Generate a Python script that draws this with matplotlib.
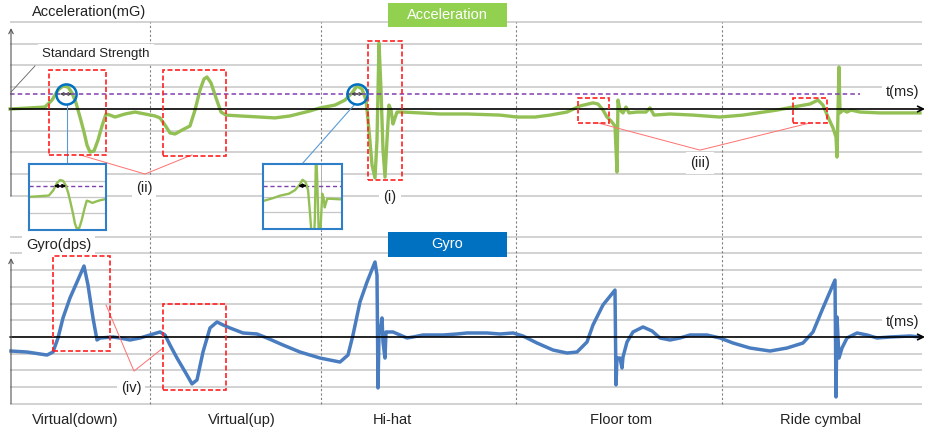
import numpy as np
import matplotlib.pyplot as plt
from matplotlib.patches import Rectangle

plt.rcParams['font.family'] = ['Liberation Sans', 'DejaVu Sans']

# acceleration trace: time (ms) / value in grid steps
acc_t = [0, 20, 35, 42, 48, 53, 58, 62, 66, 70, 74, 77, 80, 84, 88, 92, 96, 100, 105,
         115, 125, 135, 145, 150, 155, 160, 165, 172, 180, 185, 190, 194, 197, 201, 206,
         211, 216, 230, 250, 265, 280, 300, 310, 325, 335, 342, 347, 352, 356, 359, 362,
         365, 367, 369, 371, 373, 375, 377, 379, 381, 383, 385, 387, 392, 410, 430, 457,
         490, 507, 525, 540, 557, 570, 583, 588, 593, 597, 601, 605, 607, 608, 610, 613,
         616, 619, 627, 636, 640, 644, 660, 683, 710, 733, 767, 783, 800, 808, 813, 818,
         823, 826, 827, 829, 830, 833, 837, 841, 850, 870, 910]
acc_v = [0.00, 0.05, 0.09, 0.41, 0.87, 1.06, 1.01, 0.74, 0.28, -0.37, -1.06, -1.66, -1.98,
         -1.93, -1.43, -0.78, -0.23, -0.28, -0.37, -0.23, -0.14, -0.23, -0.32, -0.41, -0.74,
         -1.10, -1.15, -0.97, -0.78, -0.05, 0.87, 1.38, 1.47, 1.20, 0.51, -0.14, -0.28,
         -0.32, -0.37, -0.41, -0.32, -0.09, 0.05, 0.18, 0.41, 0.74, 1.06, 0.92, 0.41, -0.97,
         -2.57, -3.17, -1.43, 3.03, 0.87, -1.89, -3.13, -1.43, 0.18, -0.05, -0.69, -0.41,
         -0.14, -0.14, -0.18, -0.23, -0.23, -0.28, -0.37, -0.37, -0.28, -0.14, 0.14, 0.28,
         0.23, -0.05, -0.37, -0.55, -0.78, -2.90, 0.41, -0.05, -0.18, 0.09, -0.18, -0.14,
         -0.14, 0.05, -0.28, -0.23, -0.28, -0.37, -0.28, -0.05, 0.09, 0.23, 0.41, 0.18,
         -0.37, -0.87, -1.29, -2.21, 1.93, -0.18, -0.05, -0.14, -0.05, -0.14, -0.18, -0.18]

# gyro trace: time (ms) / value in grid steps
gyro_t = [1, 17, 37, 43, 48, 53, 60, 67, 74, 78, 83, 87, 90, 103, 110, 120, 130, 140, 150,
          155, 160, 167, 177, 182, 187, 193, 200, 207, 213, 220, 233, 247, 257, 273, 290,
          310, 330, 338, 343, 350, 357, 365, 367, 368, 369, 370, 372, 373, 375, 376, 378,
          383, 390, 397, 403, 413, 433, 447, 457, 477, 490, 503, 513, 527, 543, 557, 567,
          577, 583, 593, 605, 606, 607, 610, 612, 613, 617, 623, 633, 642, 650, 660, 670,
          680, 697, 710, 723, 740, 760, 777, 793, 803, 813, 825, 826, 827, 829, 832, 837,
          847, 857, 867, 880, 900, 910]
gyro_v = [-0.84, -0.90, -1.08, -0.90, -0.06, 1.14, 2.34, 3.29, 4.25, 3.11, 1.14, -0.18,
          -0.06, 0.00, -0.06, -0.18, -0.06, 0.12, 0.30, 0.12, -0.48, -1.26, -2.28, -2.81,
          -2.57, -0.90, 0.54, 0.90, 0.72, 0.54, 0.24, 0.18, -0.06, -0.48, -0.90, -1.26,
          -1.50, -1.08, 0.12, 2.10, 3.29, 4.49, 3.71, -3.05, 0.12, 0.30, 1.14, -0.30, -1.26,
          0.30, 0.30, 0.30, 0.12, -0.06, 0.00, 0.12, 0.12, 0.18, 0.24, 0.24, 0.18, 0.24,
          0.06, -0.36, -0.78, -0.96, -0.90, -0.30, 0.72, 1.92, 2.81, -2.87, -1.26, -1.26,
          -1.86, -1.20, -0.30, 0.30, 0.60, 0.36, -0.06, -0.18, -0.06, 0.12, 0.12, -0.06,
          -0.36, -0.66, -0.84, -0.66, -0.36, 0.30, 1.74, 3.41, -3.59, 1.20, -1.26, -0.66,
          -0.06, 0.24, 0.12, -0.06, 0.00, 0.06, 0.00]

strikes = ['Virtual(down)', 'Virtual(up)', 'Hi-hat', 'Floor tom', 'Ride cymbal']
strike_mid = [65, 232, 382, 611, 811]
strike_edges = [140, 311, 506, 712]
standard_level = 0.69

GREEN = '#93C054'
BLUE = '#4A7DC0'
PURPLE = '#8040B0'
RED = '#FF2020'
GRID = '#C6C6C6'
TXT = '#222222'

fig = plt.figure(figsize=(9.29, 4.33), dpi=100)
H = 433.0
ax1 = fig.add_axes([0, 1 - 232 / H, 1, 232 / H])
ax2 = fig.add_axes([0, 0, 1, 201 / H])
for ax in (ax1, ax2):
    ax.set_xlim(-10, 919)
    ax.axis('off')
ax1.set_ylim(-5.655, 5.011)
ax2.set_ylim(-5.749, 6.287)

lbl = dict(fontsize=10.5, color=TXT, zorder=6,
           bbox=dict(fc='white', ec='none', pad=3))


def axis_arrows(ax, ytop, ybot):
    ax.annotate('', xy=(915, 0), xytext=(0, 0), zorder=5,
                arrowprops=dict(arrowstyle='->', color='black', lw=1.2,
                                shrinkA=0, shrinkB=0, mutation_scale=10))
    ax.annotate('', xy=(1, ytop), xytext=(1, ybot), zorder=5,
                arrowprops=dict(arrowstyle='->', color='#555555', lw=0.8,
                                shrinkA=0, shrinkB=0, mutation_scale=8))


def red_box(ax, t0, t1, v0, v1):
    ax.add_patch(Rectangle((t0, v0), t1 - t0, v1 - v0, fill=False, ec=RED,
                           lw=1.2, ls=(0, (3, 1.5)), zorder=7))


# ---------------- acceleration panel
ax1.hlines([-4, -3, -2, -1, 1, 2, 3, 4], 0, 912, color=GRID, lw=1.1, zorder=1)
ax1.vlines(strike_edges, -5.655, 4, colors='#808080', lw=0.8,
           linestyles=(0, (2, 2)), zorder=2)
ax1.plot(acc_t, acc_v, color=GREEN, lw=2.4, zorder=3, solid_joinstyle='round')
ax1.plot([0, 850], [standard_level] * 2, color=PURPLE, lw=1.1, ls=(0, (3, 2)), zorder=4)
axis_arrows(ax1, 3.72, -4)

ax1.text(22, 4.46, 'Acceleration(mG)', ha='left', va='center', fontsize=10.5, color=TXT)
ax1.add_patch(Rectangle((378, 3.77), 119, 1.10, fc='#92D050', ec='none', zorder=6))
ax1.text(437.5, 4.32, 'Acceleration', ha='center', va='center', color='white',
         fontsize=10.5, zorder=7)
ax1.text(32, 2.52, 'Standard Strength', ha='left', va='center', fontsize=9.5,
         color=TXT, zorder=6, bbox=dict(fc='white', ec='none', pad=3))
ax1.plot([1, 25], [0.78, 1.98], color='#606060', lw=0.6, zorder=5)
ax1.text(893, 0.78, 't(ms)', ha='center', va='center', **lbl)

# threshold crossings
for tc, (a0, a1) in zip([56, 347], [(50, 62), (341, 353)]):
    ax1.plot(tc, standard_level, 'o', ms=14.5, mfc='none', mec='#0070C0', mew=1.8, zorder=8)
    ax1.annotate('', xy=(a1, standard_level), xytext=(a0, standard_level), zorder=8,
                 arrowprops=dict(arrowstyle='<->', color='#404040', lw=0.8,
                                 shrinkA=0, shrinkB=0, mutation_scale=5))
ax1.plot([57, 57], [0.23, -2.53], color='#5B9BD5', lw=0.8, zorder=5)
ax1.plot([345, 292], [0.23, -2.53], color='#5B9BD5', lw=0.8, zorder=5)

red_box(ax1, 39, 96, -2.11, 1.79)
red_box(ax1, 153, 216, -2.16, 1.79)
red_box(ax1, 358, 392, -3.26, 3.13)
red_box(ax1, 568, 599, -0.64, 0.51)
red_box(ax1, 783, 817, -0.64, 0.51)
ax1.plot([70, 135, 182], [-2.11, -2.99, -2.11], color='#FF7070', lw=0.7, zorder=5)
ax1.plot([588, 690, 800], [-0.64, -1.89, -0.64], color='#FF7070', lw=0.7, zorder=5)
ax1.text(134, -3.63, '(ii)', ha='center', va='center', **lbl)
ax1.text(380, -4.05, '(i)', ha='center', va='center', **lbl)
ax1.text(690, -2.48, '(iii)', ha='center', va='center', **lbl)


def zoom_inset(bounds, xlim, arrow, edge_frac=None):
    ins = ax1.inset_axes(bounds, transform=ax1.transData, zorder=9)
    ins.set_facecolor('white')
    ins.patch.set_alpha(1.0)
    ins.set_xlim(*xlim)
    ins.set_ylim(-2.06, 2.06)
    ins.set_xticks([])
    ins.set_yticks([])
    ins.hlines([-1, 0, 1], *xlim, color=GRID, lw=0.9)
    if edge_frac is not None:
        ins.plot([edge_frac, edge_frac], [0, 1], transform=ins.transAxes,
                 color='#b0b0b0', lw=0.7)
    ins.plot(xlim, [standard_level] * 2, color=PURPLE, lw=1.0, ls=(0, (3, 2)))
    ins.plot(acc_t, acc_v, color=GREEN, lw=1.7)
    ins.annotate('', xy=(arrow[1], standard_level), xytext=(arrow[0], standard_level),
                 arrowprops=dict(arrowstyle='<|-|>', color='black', lw=1.0,
                                 shrinkA=0, shrinkB=0, mutation_scale=5))
    for s in ins.spines.values():
        s.set_color('#2E7FC8')
        s.set_linewidth(1.5)


zoom_inset([19, -5.56, 77, 3.03], (3, 127), (43, 63))
zoom_inset([253, -5.52, 79, 2.99], (283, 411), (340, 354), edge_frac=0.73)

# ---------------- gyro panel
ax2.hlines([-4, -3, -2, -1, 1, 2, 3, 4, 5, 6], 0, 912, color=GRID, lw=1.1, zorder=1)
ax2.vlines(strike_edges, -4, 6.287, colors='#808080', lw=0.8,
           linestyles=(0, (2, 2)), zorder=2)
ax2.plot(gyro_t, gyro_v, color=BLUE, lw=2.5, zorder=3, solid_joinstyle='round')
axis_arrows(ax2, 4.73, -4)

ax2.add_patch(Rectangle((378, 4.79), 119, 1.50, fc='#0070C0', ec='none', zorder=6))
ax2.text(437.5, 5.54, 'Gyro', ha='center', va='center', color='white',
         fontsize=10.5, zorder=7)
ax2.text(16, 5.51, 'Gyro(dps)', ha='left', va='center', **lbl)
ax2.text(893, 0.90, 't(ms)', ha='center', va='center', **lbl)

red_box(ax2, 43, 100, -0.84, 4.85)
red_box(ax2, 153, 216, -3.17, 1.98)
ax2.plot([96, 124, 153], [1.92, -2.04, -0.66], color='#FF7070', lw=0.7, zorder=5)
ax2.text(121, -3.05, '(iv)', ha='center', va='center', **lbl)

for name, tm in zip(strikes, strike_mid):
    ax2.text(tm, -4.97, name, ha='center', va='center', fontsize=10.5, color=TXT)

fig.savefig('out.png', dpi=100)
